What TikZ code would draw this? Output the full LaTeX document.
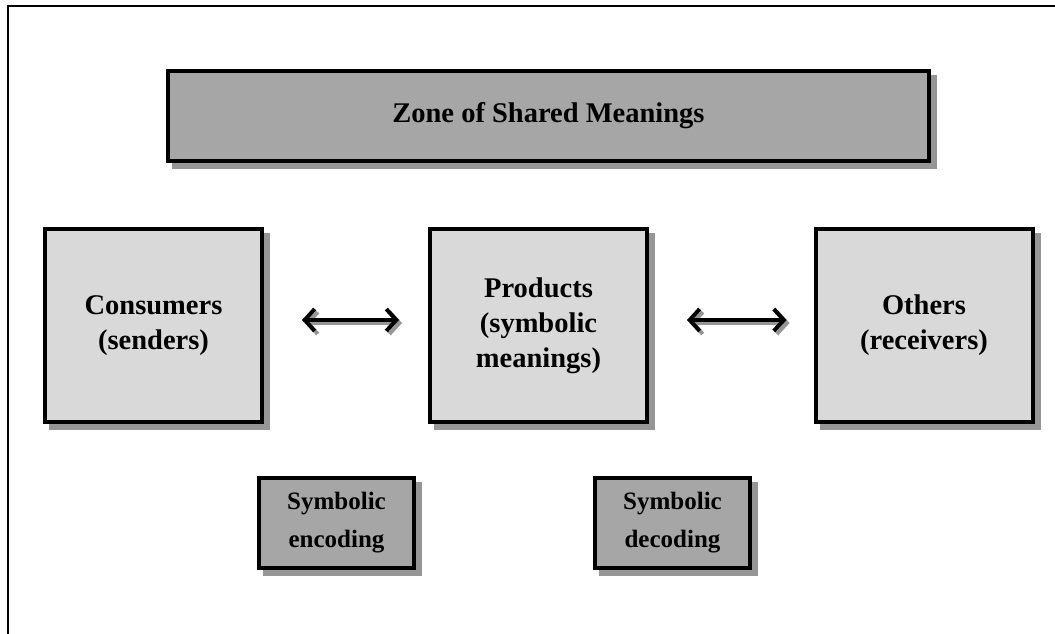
\documentclass[tikz,border=0pt]{standalone}
\usepackage{fontspec}
\setmainfont{Liberation Serif}
\usetikzlibrary{shadows,arrows.meta}
\definecolor{darkfill}{RGB}{166,166,166}
\definecolor{lightfill}{RGB}{217,217,217}
\definecolor{shadowgray}{RGB}{150,150,150}
\begin{document}
\begin{tikzpicture}[x=1pt,y=-1pt,
  boxbase/.style={draw=black, line width=4pt, align=center, inner sep=0pt,
    drop shadow={shadow xshift=6pt, shadow yshift=-6pt, fill=shadowgray, draw=shadowgray, line width=4pt, opacity=1}},
  bigbox/.style={boxbase, fill=lightfill, minimum width=217pt, minimum height=193pt,
    font=\fontsize{28.5}{35}\selectfont\bfseries},
  zonebox/.style={boxbase, fill=darkfill, minimum width=761pt, minimum height=90pt,
    font=\fontsize{28.5}{35}\selectfont\bfseries},
  smallbox/.style={boxbase, fill=darkfill, minimum width=155pt, minimum height=90pt,
    font=\fontsize{25}{38}\selectfont\bfseries},
  link/.style={line width=4pt, {Straight Barb[length=10pt,width=22pt]}-{Straight Barb[length=10pt,width=22pt]}},
  linkshadow/.style={link, draw=shadowgray, transform canvas={xshift=3pt,yshift=-3pt}},
]
\useasboundingbox (0,0) rectangle (1055,634);
% frame
\draw[line width=2pt] (8,634) -- (8,6) -- (1055,6);

\node[zonebox] (zone) at (548.5,116) {Zone of Shared Meanings};
\node[bigbox] (cons) at (153.5,325.5) {Consumers\\(senders)};
\node[bigbox] (prod) at (538.5,325.5) {Products\\(symbolic\\meanings)};
\node[bigbox] (oth) at (924,325.5) {Others\\(receivers)};
\node[smallbox] (enc) at (336.5,523) {Symbolic\\encoding};
\node[smallbox] (dec) at (672.5,523) {Symbolic\\decoding};

\draw[linkshadow, shorten <=38pt, shorten >=29pt] ([yshift=5.5pt]cons.east) -- ([yshift=5.5pt]prod.west);
\draw[link, shorten <=38pt, shorten >=29pt] ([yshift=5.5pt]cons.east) -- ([yshift=5.5pt]prod.west);
\draw[linkshadow, shorten <=38pt, shorten >=27pt] ([yshift=5.5pt]prod.east) -- ([yshift=5.5pt]oth.west);
\draw[link, shorten <=38pt, shorten >=27pt] ([yshift=5.5pt]prod.east) -- ([yshift=5.5pt]oth.west);
\end{tikzpicture}
\end{document}
